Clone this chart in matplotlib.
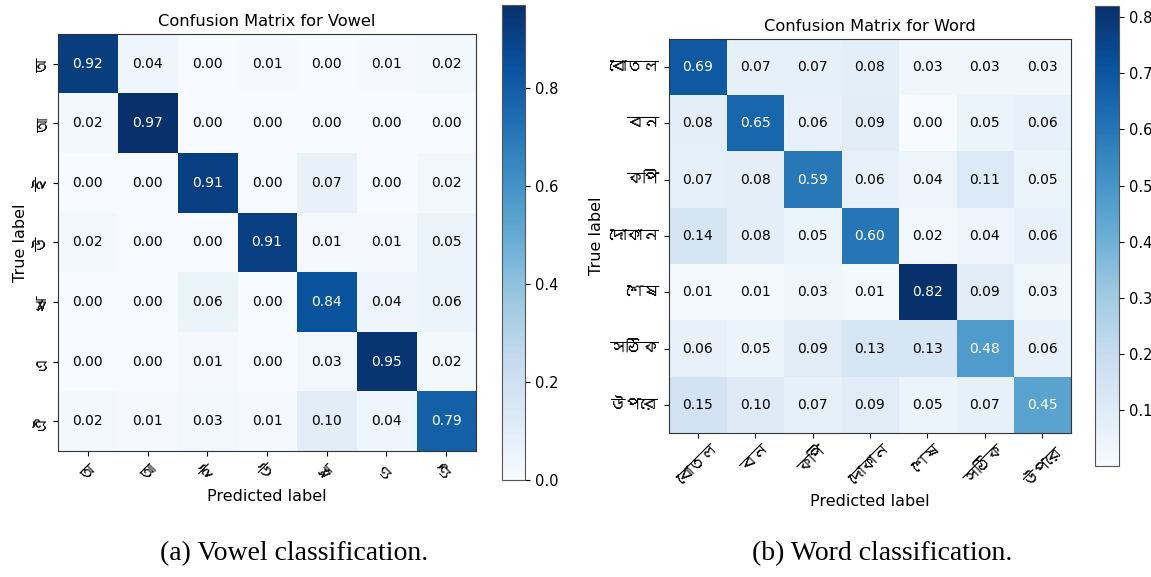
import numpy as np
import matplotlib
matplotlib.use("Agg")
import matplotlib.pyplot as plt
from matplotlib import font_manager
from matplotlib.ft2font import FT2Font

vowel_labels = ["অ", "আ", "ই", "উ", "ঋ", "এ", "ঐ"]
vowel_cm = [
    [0.92, 0.04, 0.00, 0.01, 0.00, 0.01, 0.02],
    [0.02, 0.97, 0.00, 0.00, 0.00, 0.00, 0.00],
    [0.00, 0.00, 0.91, 0.00, 0.07, 0.00, 0.02],
    [0.02, 0.00, 0.00, 0.91, 0.01, 0.01, 0.05],
    [0.00, 0.00, 0.06, 0.00, 0.84, 0.04, 0.06],
    [0.00, 0.00, 0.01, 0.00, 0.03, 0.95, 0.02],
    [0.02, 0.01, 0.03, 0.01, 0.10, 0.04, 0.79],
]
vowel_cb_ticks = [0.0, 0.2, 0.4, 0.6, 0.8]

word_labels = ["বোতল", "বন", "কপি", "দোকান", "শেষ", "সঠিক", "উপরে"]
word_cm = [
    [0.69, 0.07, 0.07, 0.08, 0.03, 0.03, 0.03],
    [0.08, 0.65, 0.06, 0.09, 0.00, 0.05, 0.06],
    [0.07, 0.08, 0.59, 0.06, 0.04, 0.11, 0.05],
    [0.14, 0.08, 0.05, 0.60, 0.02, 0.04, 0.06],
    [0.01, 0.01, 0.03, 0.01, 0.82, 0.09, 0.03],
    [0.06, 0.05, 0.09, 0.13, 0.13, 0.48, 0.06],
    [0.15, 0.10, 0.07, 0.09, 0.05, 0.07, 0.45],
]
word_cb_ticks = [0.1, 0.2, 0.3, 0.4, 0.5, 0.6, 0.7, 0.8]

captions = ["(a) Vowel classification.", "(b) Word classification."]
titles = ["Confusion Matrix for Vowel", "Confusion Matrix for Word"]


def bengaliFont():
    # pick any installed font that has Bengali glyphs
    for f in font_manager.fontManager.ttflist:
        try:
            if 0x0985 in FT2Font(f.fname).get_charmap():
                return f.name
        except Exception:
            pass
    return "DejaVu Sans"


def plotMatrix(fig, ax_rect, cb_rect, cm, labels, title, ylabel_rot, cb_ticks, bn_font):
    cm = np.array(cm)
    ax = fig.add_axes(ax_rect)
    cax = fig.add_axes(cb_rect)
    im = ax.imshow(cm, interpolation="nearest", cmap=plt.cm.Blues, aspect="auto")
    cb = fig.colorbar(im, cax=cax, ticks=cb_ticks)
    cb.ax.tick_params(labelsize=10.5)
    cb.outline.set_edgecolor("#555555")
    ax.set_title(title, fontsize=11.7)

    ticks = np.arange(len(labels))
    ax.set_xticks(ticks)
    ax.set_yticks(ticks)
    ax.set_xticklabels(labels, rotation=45, fontsize=12,
                       family=[bn_font, "DejaVu Sans"])
    ax.set_yticklabels(labels, rotation=ylabel_rot, fontsize=12, va="center",
                       family=[bn_font, "DejaVu Sans"])

    thresh = cm.max() / 2.
    for i in range(cm.shape[0]):
        for j in range(cm.shape[1]):
            ax.text(j, i, format(cm[i, j], ".2f"), ha="center", va="center",
                    fontsize=10, color="white" if cm[i, j] > thresh else "black")

    ax.set_ylabel("True label", fontsize=11.5)
    ax.set_xlabel("Predicted label", fontsize=11.5)
    for s in ax.spines.values():
        s.set_edgecolor("#333333")
    return ax


def main():
    bn_font = bengaliFont()
    fig = plt.figure(figsize=(11.51, 5.77), dpi=100)

    plotMatrix(fig, [0.0504, 0.2184, 0.3632, 0.7227], [0.4361, 0.1681, 0.020, 0.8232],
               vowel_cm, vowel_labels, titles[0], 90, vowel_cb_ticks, bn_font)
    plotMatrix(fig, [0.5812, 0.2496, 0.3493, 0.6828], [0.9513, 0.1924, 0.0209, 0.7972],
               word_cm, word_labels, titles[1], 0, word_cb_ticks, bn_font)

    fig.text(0.2554, 0.041, captions[0], ha="center", va="center",
             fontsize=20, family="Liberation Serif")
    fig.text(0.7663, 0.041, captions[1], ha="center", va="center",
             fontsize=20, family="Liberation Serif")

    fig.savefig("out.png", dpi=100)


if __name__ == '__main__':
    main()
